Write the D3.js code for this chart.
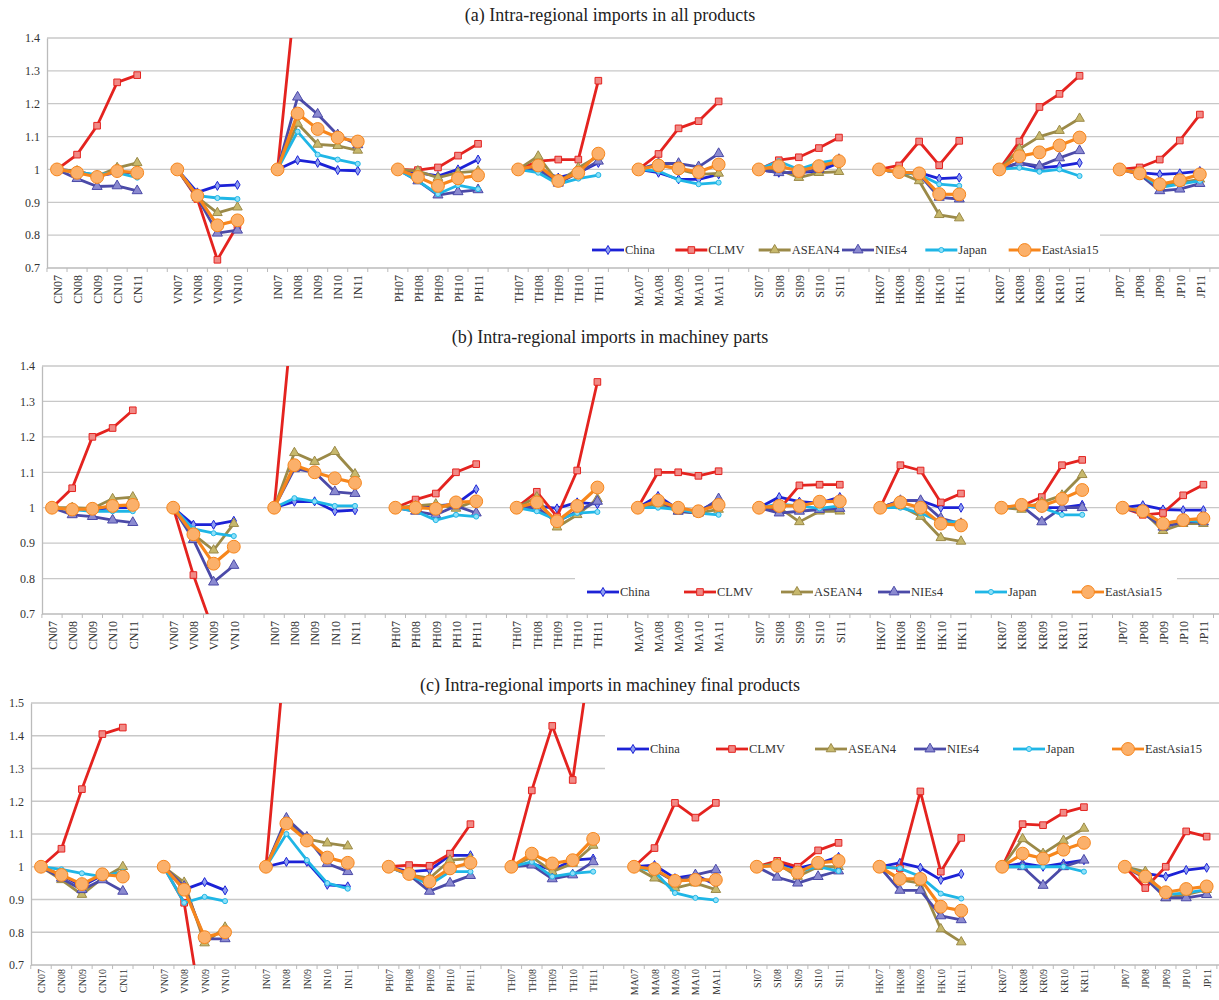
<!DOCTYPE html>
<html><head><meta charset="utf-8">
<script src="https://cdn.jsdelivr.net/npm/d3@7"></script>
<style>body{margin:0;background:#fff}svg{display:block}</style>
</head><body>
<svg id="c" width="1219" height="1000"></svg>
<script>
const groups = ["CN","VN","IN","PH","TH","MA","SI","HK","KR","JP"];
const yearsByGroup = [["07","08","09","10","11"],["07","08","09","10"],["07","08","09","10","11"],["07","08","09","10","11"],["07","08","09","10","11"],["07","08","09","10","11"],["07","08","09","10","11"],["07","08","09","10","11"],["07","08","09","10","11"],["07","08","09","10","11"]];
const seriesNames = ["China","CLMV","ASEAN4","NIEs4","Japan","EastAsia15"];
const titles = ["(a) Intra-regional imports in all products","(b) Intra-regional imports in machiney parts","(c) Intra-regional imports in machiney final products"];

// Panel (a)
const a_China =  [[1,.995,.98,.99,.99],[1,.93,.95,.953],[1,1.028,1.02,.998,.996],[1,.99,.98,1.0,1.03],[1,1.0,.975,.99,1.02],[1,.99,.97,.97,.985],[1,.99,.99,.995,1.02],[1,.99,.99,.972,.975],[1,1.02,1.005,1.01,1.02],[1,.99,.985,.988,.995]];
const a_CLMV =   [[1,1.045,1.133,1.265,1.287],[1,.91,.725,.83],[1,1.6,1.6,1.6,1.6],[1,.998,1.006,1.042,1.078],[1,1.025,1.03,1.03,1.27],[1,1.047,1.125,1.147,1.207],[1,1.028,1.037,1.065,1.097],[1,1.012,1.085,1.013,1.087],[1,1.085,1.19,1.23,1.285],[1,1.006,1.03,1.088,1.167]];
const a_ASEAN4 = [[1,.995,.98,1.005,1.02],[1,.915,.868,.885],[1,1.14,1.076,1.072,1.058],[1,.995,.975,.99,.995],[1,1.04,.96,1.005,1.04],[1,1.015,1.0,.985,.988],[1,1.0,.975,.99,.993],[1,.99,.965,.862,.852],[1,1.062,1.1,1.118,1.155],[1,.99,.95,.96,.97]];
const a_NIEs4 =  [[1,.972,.948,.95,.935],[1,.915,.806,.815],[1,1.22,1.168,1.105,1.075],[1,.965,.922,.932,.938],[1,1.0,.958,.99,1.025],[1,1.018,1.018,1.008,1.048],[1,.99,.99,1.0,1.03],[1,.99,.985,.915,.91],[1,1.02,1.01,1.035,1.057],[1,.985,.935,.94,.957]];
const a_Japan =  [[1,.99,.985,.99,.975],[1,.92,.913,.91],[1,1.115,1.045,1.03,1.017],[1,.965,.925,.952,.94],[1,.99,.955,.972,.983],[1,.995,.968,.955,.96],[1,1.025,1.0,1.02,1.03],[1,.99,.985,.955,.95],[1,1.005,.993,1.0,.98],[1,.99,.945,.955,.965]];
const a_EA15 =   [[1,.99,.977,.995,.99],[1,.92,.83,.845],[1,1.17,1.123,1.097,1.085],[1,.977,.95,.973,.982],[1,1.012,.965,.99,1.048],[1,1.012,1.003,.992,1.015],[1,1.01,.995,1.01,1.025],[1,.992,.988,.925,.924],[1,1.04,1.052,1.073,1.097],[1,.988,.955,.967,.985]];
// Panel (b)
const b_China =  [[1,.995,.995,1.0,1.0],[1,.952,.952,.963],[1,1.017,1.018,.99,.993],[1,1.0,1.005,1.01,1.052],[1,1.005,.998,1.015,1.01],[1,1.033,.995,.99,1.02],[1,1.03,1.017,1.013,1.03],[1,1.02,1.02,1.0,1.0],[1,1.005,1.0,1.0,1.008],[1,1.007,.995,.993,.993]];
const b_CLMV =   [[1,1.055,1.2,1.225,1.275],[1,.81,.65,.55],[1,1.6,1.6,1.6,1.6],[1,1.023,1.04,1.1,1.123],[1,1.045,.975,1.105,1.355],[1,1.1,1.1,1.09,1.103],[1,.995,1.063,1.065,1.065],[1,1.12,1.105,1.015,1.04],[1,1.005,1.03,1.12,1.135],[1,.98,.985,1.035,1.065]];
const b_ASEAN4 = [[1,1.0,.998,1.025,1.03],[1,.925,.88,.955],[1,1.155,1.13,1.158,1.095],[1,1.005,1.01,.998,1.02],[1,1.03,.945,.98,1.025],[1,1.01,.99,.985,.995],[1,1.0,.96,.99,.99],[1,1.005,.975,.915,.905],[1,.995,1.015,1.035,1.093],[1,.99,.935,.955,.955]];
const b_NIEs4 =  [[1,.98,.975,.965,.958],[1,.91,.79,.837],[1,1.11,1.1,1.045,1.04],[1,.99,.98,1.005,.985],[1,1.0,.96,.99,1.018],[1,1.02,.99,.985,1.025],[1,.985,.99,.995,.998],[1,1.02,1.02,.97,.955],[1,1.005,.96,1.0,1.0],[1,.985,.945,.96,.96]];
const b_Japan =  [[1,.995,.99,.99,.99],[1,.94,.928,.92],[1,1.027,1.018,1.005,1.005],[1,.99,.965,.98,.975],[1,.99,.965,.985,.988],[1,1.0,.995,.985,.98],[1,1.01,1.005,.998,1.005],[1,1.0,.985,.96,.96],[1,1.005,1.0,.98,.98],[1,.99,.955,.965,.96]];
const b_EA15 =   [[1,.995,.997,1.005,1.008],[1,.925,.842,.89],[1,1.12,1.1,1.083,1.07],[1,1.0,.997,1.015,1.018],[1,1.015,.962,1.005,1.057],[1,1.02,1.0,.99,1.008],[1,1.005,1.005,1.017,1.018],[1,1.015,1.0,.955,.95],[1,1.008,1.005,1.025,1.05],[1,.99,.955,.965,.97]];
// Panel (c)
const c_China =  [[1,.975,.94,.975,.975],[1,.93,.953,.928],[1,1.015,1.015,.945,.94],[1,.985,.99,1.035,1.035],[1,1.01,.99,1.02,1.025],[1,1.005,.965,.975,.945],[1,1.01,.995,1.01,1.03],[1,1.012,.997,.96,.978],[1,1.01,1.0,1.01,1.02],[1,.98,.97,.99,.997]];
const c_CLMV =   [[1,1.055,1.237,1.405,1.425],[1,.89,.5,.4],[1,1.7,1.7,1.7,1.7],[1,1.005,1.003,1.04,1.13],[1,1.233,1.43,1.265,1.7],[1,1.057,1.195,1.15,1.195],[1,1.018,1.0,1.05,1.073],[1,.995,1.23,.985,1.088],[1,1.13,1.127,1.165,1.182],[1,.935,1.0,1.108,1.092]];
const c_ASEAN4 = [[1,.96,.915,.965,1.0],[1,.952,.767,.815],[1,1.14,1.085,1.072,1.063],[1,.975,.965,1.02,1.025],[1,1.03,.985,1.01,1.065],[1,.965,.935,.95,.93],[1,1.01,.97,1.0,1.0],[1,.96,.95,.81,.77],[1,1.085,1.04,1.08,1.117],[1,.985,.905,.915,.93]];
const c_NIEs4 =  [[1,.965,.93,.96,.925],[1,.94,.78,.78],[1,1.148,1.09,1.01,.985],[1,.975,.925,.95,.973],[1,1.005,.963,.975,1.015],[1,.99,.955,.975,.99],[1,.968,.95,.97,.987],[1,.928,.928,.85,.838],[1,1.0,.943,1.0,1.02],[1,.965,.905,.905,.915]];
const c_Japan =  [[1,.992,.98,.97,.985],[1,.89,.908,.895],[1,1.1,1.02,.95,.933],[1,.975,.945,.985,.985],[1,1.015,.97,.98,.985],[1,.985,.92,.905,.898],[1,1.005,.985,1.0,.987],[1,.995,.97,.918,.903],[1,1.0,1.0,1.0,.985],[1,.975,.915,.92,.93]];
const c_EA15 =   [[1,.975,.947,.977,.97],[1,.93,.785,.8],[1,1.132,1.08,1.028,1.012],[1,.978,.955,.995,1.012],[1,1.04,1.01,1.02,1.085],[1,.993,.957,.96,.96],[1,1.003,.982,1.012,1.018],[1,.963,.963,.878,.866],[1,1.04,1.025,1.052,1.073],[1,.97,.922,.932,.94]];

const yDomains = [[0.7,1.4],[0.7,1.4],[0.7,1.5]];
const yTicks = [[0.7,0.8,0.9,1,1.1,1.2,1.3,1.4],[0.7,0.8,0.9,1,1.1,1.2,1.3,1.4],[0.7,0.8,0.9,1,1.1,1.2,1.3,1.4,1.5]];

const panelData = [
  [a_China,a_CLMV,a_ASEAN4,a_NIEs4,a_Japan,a_EA15],
  [b_China,b_CLMV,b_ASEAN4,b_NIEs4,b_Japan,b_EA15],
  [c_China,c_CLMV,c_ASEAN4,c_NIEs4,c_Japan,c_EA15]];

const L = [
  {title:15, top:38, bottom:268, left:47, first:57, step:20.05, xfs:12, leg:{x:580,y:228,w:520,h:36,ly:250}},
  {title:337, top:366, bottom:614, left:42, first:52, step:20.2, xfs:12, leg:{x:575,y:553,w:602,h:48,ly:592}},
  {title:685, top:703, bottom:965, left:31, first:41, step:20.45, xfs:10, leg:{x:605,y:722,w:614,h:52,ly:749}}];

const colors = ["#1c22d6","#e4231f","#9b8a48","#4b4aa8","#1fb6e6","#f7861c"];
const fills = ["#8fa0f0","#f08a86","#c7b86c","#8b8ad0","#8fe0f8","#fbb06a"];
const symbols = [d3.symbolDiamond,d3.symbolSquare,d3.symbolTriangle,d3.symbolTriangle,d3.symbolCircle,d3.symbolCircle];
const symSize = [24,44,40,44,20,130];

const cats = [];
groups.forEach((g,gi)=>{ if(gi>0) cats.push({gap:true,id:"gap"+gi}); yearsByGroup[gi].forEach(y=>cats.push({label:g+y,id:g+y,g:gi})); });
const nCat = cats.length;

const svg = d3.select("#c");
const serif = "'Liberation Serif','DejaVu Serif',serif";

panelData.forEach((series,pi)=>{
  const lay = L[pi];
  const x = d3.scalePoint().domain(cats.map(c=>c.id)).range([lay.first, lay.first+lay.step*(nCat-1)]);
  const y = d3.scaleLinear().domain(yDomains[pi]).range([lay.bottom, lay.top]);
  const g = svg.append("g");
  g.append("text").attr("x",610).attr("y",lay.title+6).attr("text-anchor","middle")
    .attr("font-family",serif).attr("font-size",18).attr("fill","#222").text(titles[pi]);
  g.selectAll(".grid").data(yTicks[pi].filter(t=>t>yDomains[pi][0])).join("line")
    .attr("x1",lay.left).attr("x2",1219).attr("y1",d=>y(d)).attr("y2",d=>y(d))
    .attr("stroke","#c8c8c8").attr("stroke-width",1.3);
  const ya = g.append("g").attr("transform",`translate(${lay.left},0)`)
    .call(d3.axisLeft(y).tickValues(yTicks[pi]).tickSize(0).tickPadding(7).tickFormat(d3.format("~g")));
  ya.select(".domain").attr("stroke","#bbb").attr("stroke-width",1.3);
  ya.selectAll("text").attr("font-family",serif).attr("font-size",12).attr("fill","#333");
  const xa = g.append("g").attr("transform",`translate(0,${lay.bottom})`)
    .call(d3.axisBottom(x).tickSize(0).tickFormat(id=>{const c=cats.find(k=>k.id===id);return c.label||"";}));
  xa.select(".domain").attr("stroke","#bbb").attr("stroke-width",1.3).attr("d",`M${lay.left},0H1219`);
  xa.selectAll("text").attr("font-family",serif).attr("font-size",lay.xfs).attr("fill","#333")
    .attr("transform","rotate(-90)").attr("text-anchor","end").attr("dx", pi===2?"-4":"-7").attr("dy","0.35em").attr("x",0).attr("y",0);
  g.selectAll(".mt").data(d3.range(nCat+1)).join("line")
    .attr("x1",i=>lay.first+lay.step*(i-0.5)).attr("x2",i=>lay.first+lay.step*(i-0.5))
    .attr("y1",lay.bottom).attr("y2",lay.bottom+4).attr("stroke","#bbb");
  const lg = lay.leg;
  g.append("rect").attr("x",lg.x).attr("y",lg.y).attr("width",lg.w).attr("height",lg.h).attr("fill","#fff");
  const cid="clip"+pi;
  svg.append("clipPath").attr("id",cid).append("rect").attr("x",lay.left).attr("y",lay.top).attr("width",1219-lay.left).attr("height",lay.bottom-lay.top);
  const plot = g.append("g").attr("clip-path",`url(#${cid})`);
  const line = d3.line().x(d=>x(d.id)).y(d=>y(d.v));
  series.forEach((ser,si)=>{
    const sg = plot.append("g");
    ser.forEach((vals,gi)=>{
      const pts = vals.map((v,k)=>({id:groups[gi]+yearsByGroup[gi][k],v}));
      sg.append("path").datum(pts).attr("d",line).attr("fill","none")
        .attr("stroke",colors[si]).attr("stroke-width",si===5?3.2:2.8).attr("stroke-linejoin","round");
      sg.selectAll(null).data(pts).join("path")
        .attr("d",d3.symbol().type(symbols[si]).size(symSize[si]))
        .attr("transform",d=>`translate(${x(d.id)},${y(d.v)})`)
        .attr("fill",fills[si]).attr("stroke",colors[si]).attr("stroke-width",1);
    });
  });
  const lgG = g.append("g").attr("transform",`translate(${lg.x+12},${lg.ly})`);
  seriesNames.forEach((n,si)=>{
    const ox = si*((lg.w-20)/6);
    lgG.append("line").attr("x1",ox).attr("x2",ox+32).attr("stroke",colors[si]).attr("stroke-width",2.8);
    lgG.append("path").attr("d",d3.symbol().type(symbols[si]).size(symSize[si]))
      .attr("transform",`translate(${ox+16},0)`).attr("fill",fills[si]).attr("stroke",colors[si]);
    lgG.append("text").attr("x",ox+33).attr("y",4).attr("font-family",serif).attr("font-size",12.5).attr("fill","#333").text(n);
  });
});
</script>
</body></html>
